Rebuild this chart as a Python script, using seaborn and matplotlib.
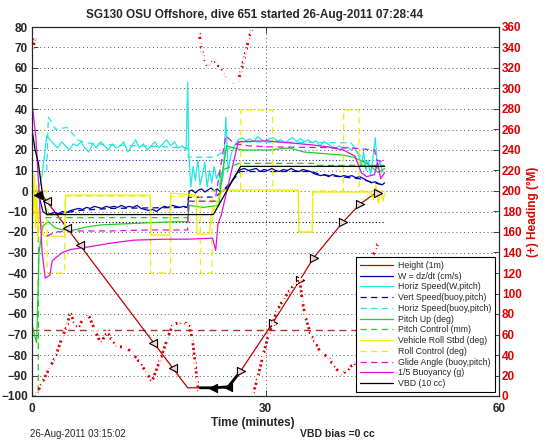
import seaborn as sns
import matplotlib.pyplot as plt
import numpy as np
import pandas as pd

# time in minutes, values in left-axis units unless noted
height_t = [0.0, 0.9, 20.0, 25.3, 26.6, 30.9, 34.4, 36.2, 40.0, 42.1, 44.5]
height_v = [0, 0, -96, -96, -89, -64.5, -43.5, -32.5, -15, -6.5, 0]
desc_mark_t = [1.9, 4.5, 6.2, 15.6, 18.1]
desc_mark_v = [-5, -18, -26.5, -74, -86.5]
asc_mark_t = [26.8, 30.9, 34.4, 36.2, 40.0, 42.1, 44.4]
asc_mark_v = [-88, -64.5, -43.5, -32.5, -15, -6.5, -1]
apogee_t = [21.6, 23.3, 25.2, 26.8]
apogee_v = [-96, -96, -95.5, -88]
start_mark_t = [0.8]
start_mark_v = [-2]

w_t = ([0, 0.6, 1.0, 1.4, 1.9]
       + [2.4, 2.9, 3.4, 3.9, 4.4, 5.0, 5.5, 6.0, 6.5, 7.0, 7.5, 8.0, 8.5, 9.0, 9.5, 10.0, 10.5, 11.0,
          11.5, 12.0, 12.5, 13.0, 13.5, 14.0, 14.5, 15.0, 15.5, 16.0, 16.5, 17.0, 17.5, 18.0, 18.5,
          19.0, 19.5, 20.0]
       + [20.2, 20.6, 21.0, 21.4, 21.8, 22.2, 22.6, 23.0, 23.4, 23.8, 24.2]
       + [24.7, 25.2, 25.7, 26.2, 26.8]
       + [27.3, 27.8, 28.3, 28.8, 29.3, 29.8, 30.3, 30.8, 31.3, 31.8, 32.3, 32.8, 33.3, 33.8, 34.3,
          34.8, 35.3, 35.8]
       + [36.2, 36.6, 37.1, 37.6, 38.1, 38.6, 39.1, 39.6, 40.1, 40.6, 41.1, 41.6, 42.1, 42.6, 43.1,
          43.6, 44.1, 44.6, 45.0, 45.3])
w_v = ([0, 0, -4, -10, -11.5]
       + [-11, -10.5, -11, -10, -10.5, -9.5, -9, -8.5, -9, -8, -8.5, -7.5, -8, -8.5, -7.5, -8, -7.5, -8,
          -7, -8, -7.5, -8, -7, -8.5, -9, -9.5, -9, -10, -8.5, -7.5, -8, -7, -7.5, -8, -7.5, -8]
       + [0, 0.5, -1, 0.5, 1, -0.5, 0.5, 1.5, 0, 1, -0.5]
       + [0.5, 2, 5, 8, 10.5]
       + [11, 10, 10.5, 11, 9.5, 10.5, 10, 11, 10, 9.5, 10.5, 10, 11, 10, 9.5, 10.5, 10, 9.5]
       + [8.5, 8, 7.5, 8, 7, 8, 7.5, 7, 7.5, 7, 7.5, 6.5, 7, 6, 5, 4, 4.5, 3.5, 3, 4])

hsw_t = ([0.8, 1.3, 1.9]
         + [2.3, 2.8, 3.3, 3.8, 4.3, 4.8, 5.3, 5.8, 6.3, 6.8, 7.3, 7.8, 8.3, 8.8, 9.3, 9.8, 10.3, 10.8,
            11.3, 11.8, 12.3, 12.8, 13.3, 13.8, 14.3, 14.8, 15.3, 15.8, 16.3, 16.8, 17.3, 17.8, 18.3,
            18.8, 19.3, 19.8]
         + [20.0, 20.15]
         + [20.4, 20.7, 21.0, 21.3, 21.6, 21.9, 22.2, 22.5, 22.8, 23.1, 23.4, 23.7, 24.0, 24.3, 24.6]
         + [24.9, 25.2, 25.6, 26.0, 26.5]
         + [27.0, 27.5, 28.0, 28.5, 29.0, 29.5, 30.0, 30.5, 31.0, 31.5, 32.0, 32.5, 33.0, 33.5, 34.0,
            34.5, 35.0, 35.5, 36.0, 36.5, 37.0, 37.5, 38.0, 38.5]
         + [39.0, 39.5, 40.0, 40.5, 41.0, 41.5]
         + [42.0, 42.3, 42.6, 42.9, 43.2, 43.5, 43.8, 44.1, 44.4, 44.7, 45.0])
hsw_v = ([0, 8, 27]
         + [25, 23, 21, 24, 22, 20, 23, 22, 24, 21, 19, 23, 21, 24, 22, 20, 23, 21, 22, 24, 19, 22, 25,
            21, 23, 20, 22, 24, 21, 23, 25, 22, 24, 21, 22, 20]
         + [53, 18]
         + [2, 12, 5, 15, 3, 8, 14, 2, 10, 4, 12, 6, 9, 3, 8]
         + [36, 10, 18, 22, 25]
         + [26, 24.5, 25.5, 24, 26.5, 25, 24, 25.5, 26, 24.5, 25, 23.5, 25, 26, 24, 25.5, 24, 25, 23.5,
            24.5, 22, 24, 23, 21.5]
         + [21, 22, 20.5, 21.5, 20, 21]
         + [17, 12, 19, 10, 15, 8, 16, 26, 11, 14, 10])

hsb_t = [1.9, 2.1, 2.6, 3.0, 3.6, 4.5, 5.2, 5.8, 7.0, 10.0, 14.0, 17.0, 20.0, 20.1, 23.5, 24.5,
         26.8, 41.0, 42.0, 43.0, 44.0, 45.0]
hsb_v = [10, 36, 33, 30, 30.5, 31, 28, 25, 23.5, 22.5, 22, 21.5, 21, 16.5, 16.5, 19, 24, 23.5, 18,
         14, 12, 9]

vsb_t = [1.9, 3.0, 4.5, 6.0, 10.0, 20.0, 20.1, 23.5, 24.5, 26.8, 36.0, 37.0, 42.0, 45.0]
vsb_v = [-11.5, -11.5, -10.5, -9.5, -8.5, -8, -3, -3, 0, 9.5, 9.5, 8, 6, 3]

pitch_t = [0, 0.3, 0.6, 0.9, 1.4, 2.1, 3.0, 4.0, 5.5, 7.0, 9.0, 12.0, 15.0, 18.0, 20.0, 20.2, 22.0,
           24.0, 24.5, 25.0, 26.0, 27.0, 30.5, 33.0, 35.0, 40.0, 41.3, 43.0, 44.5, 45.3]
pitch_v = [-65, -70, -74, -30, -17, -15, -18, -19, -19, -17.5, -16.5, -16, -15.5, -15, -15, -7, -8,
           -7, 10, 22, 21, 20, 20, 21, 19, 17.5, 16.5, 13.5, 9, 11]

pitchctl_t = [0, 0.8, 0.85, 20.0, 20.1, 24.0, 24.3, 26.6, 36.2, 36.3, 45.3]
pitchctl_v = [-100, -100, -13, -13, -5, -5, 10, 13.5, 13.5, 12.5, 12.5]

roll_t = [0, 0.15, 0.3, 0.45, 0.6, 0.75, 0.9, 1.1, 1.3, 1.6, 4.2, 4.3, 15.2, 15.3, 17.7, 17.8,
          21.1, 21.2, 22.8, 23.0, 24.2, 24.5, 34.2, 34.3, 36.0, 36.1, 43.5, 43.9, 44.2, 44.5,
          44.8, 45.1, 45.3]
roll_v = [0, -12, 8, -18, 3, -25, -8, -14, -20, -22, -22, -2, -2, -21.5, -21.5, -1, -2, -21, -21,
          -12, -2, 0.5, 0.5, -20, -20, -0.5, -0.5, -4, 3, -6, 0, -5, -1]

rollctl_t = [0, 1.9, 1.95, 4.2, 4.25, 15.2, 15.25, 17.8, 17.85, 21.6, 21.65, 23.1, 23.15, 26.8,
             26.85, 30.9, 30.95, 34.2, 34.25, 36.0, 36.05, 40.0, 40.05, 42.0, 42.05, 45.3]
rollctl_v = [0, 0, -40, -40, -2.5, -2.5, -40, -40, -2.5, -2.5, -40, -40, 0, 0, 39.5, 39.5, 0, 0,
             -20, -20, 0, 0, 39.5, 39.5, 0, 0]

glide_t = [1.9, 3.0, 5.0, 10.0, 15.0, 20.0, 20.1, 23.5, 24.9, 26.0, 28.0, 31.0, 41.0, 44.0, 44.3,
           45.3]
glide_v = [-22, -20, -19.5, -19.5, -19, -19, -5, -5, 27, 23, 22, 21.5, 21, 20, 15, 14]

buoy_t = [0, 0.5, 0.9, 1.3, 1.7, 2.3, 2.6, 3.9, 5.0, 7.7, 10.0, 13.0, 17.0, 20.0, 23.2, 23.6, 23.9,
          24.3, 26.5, 30.0, 36.0, 38.0, 40.0, 41.5, 42.3, 43.0, 44.0, 44.4, 44.8, 45.3]
buoy_v = [43, 26, 0, -30, -42.5, -41, -34, -30, -28.5, -27, -25.5, -24, -23.5, -23.5, -23, -29,
          -16, -12, 24, 24.5, 22.5, 21.5, 20, 17, 9, 7, 8, 14, 6, 9]

vbd_t = [0, 0.4, 0.8, 1.3, 1.9, 23.3, 26.8, 45.3]
vbd_v = [30, 20, 14, 0, -11.5, -11.5, 12, 12]

# reference levels drawn across the dive
ref_t = [0, 45.3]
pitch_lim = [15, -15]
heading_target = -68

# heading in degrees (right axis), split where it wraps through 0/360
head_seg1_t = [0.1, 0.4]
head_seg1_h = [338, 350]
head_seg2_t = [0.6, 1.3, 2.3, 3.0, 3.9, 4.5, 4.9, 5.5, 5.9, 6.6, 7.2, 8.1, 8.8, 9.7, 10.3, 10.9,
               12.0, 12.9, 13.9, 14.8, 15.4, 16.5, 17.4, 18.1, 19.3, 20.1, 20.6, 21.0, 21.2, 21.4]
head_seg2_h = [2, 13, 28, 38, 58, 68, 82, 70, 66, 76, 80, 64, 52, 62, 54, 48, 48, 42, 32, 22, 14,
               36, 56, 70, 72, 70, 56, 30, 16, 4]
head_seg3_t = [21.5, 21.6, 21.8, 22.0, 22.3, 22.6, 22.9, 23.3, 23.7, 24.2, 24.6, 25.1, 25.5, 25.9,
               26.2, 26.5, 26.9, 27.2, 27.5, 27.8, 28.1, 28.3]
head_seg3_h = [355, 345, 338, 331, 326, 321, 325, 328, 324, 320, 315, 310, 307, 306, 306, 308, 318,
               328, 337, 347, 355, 360]
head_seg4_t = [28.4, 29.0, 29.7, 30.4, 30.9, 31.5, 32.3, 33.2, 33.8, 34.4, 34.7, 35.1, 35.8, 36.4,
               37.1, 38.1, 38.7, 39.6, 40.5, 41.3, 42.0, 42.6, 43.0, 43.4, 43.7, 44.1, 44.5]
head_seg4_h = [2, 18, 40, 60, 70, 84, 94, 104, 110, 114, 94, 78, 60, 52, 42, 38, 30, 22, 24, 32, 30,
               40, 64, 100, 135, 142, 150]

RED = '#dd0000'
DASH = (0, (5, 3.5))

sns.set_style('ticks')
plt.rcParams['font.family'] = ['Liberation Sans', 'DejaVu Sans']
plt.rcParams['font.weight'] = 'bold'
plt.rcParams['axes.linewidth'] = 0.8

fig = plt.figure(figsize=(5.46, 4.42), dpi=100)
ax = fig.add_axes([32 / 546, 46 / 442, 467 / 546, 369 / 442])
ax2 = ax.twinx()


def draw(t, v, color, ls='-', label=None, lw=0.9, target=None, **kw):
    df = pd.DataFrame({'t': t, 'v': v})
    sns.lineplot(data=df, x='t', y='v', ax=target or ax, color=color, linestyle=ls, lw=lw,
                 estimator=None, sort=False, label=label, legend=False, **kw)


# reference lines
draw(ref_t, [pitch_lim[0]] * 2, '#2222aa', ls=(0, (1, 2)), lw=0.8)
draw(ref_t, [pitch_lim[1]] * 2, 'black', ls=(0, (1, 2)), lw=0.8)
draw(ref_t, [heading_target] * 2, '#b03030', ls=DASH, lw=1.0)

# the data series, in legend order
draw(height_t, height_v, '#bb0000', label='Height (1m)')
draw(w_t, w_v, '#0000aa', label='W = dz/dt (cm/s)')
draw(hsw_t, hsw_v, '#22e5e5', label='Horiz Speed(W,pitch)')
draw(vsb_t, vsb_v, '#0000aa', ls=DASH, label='Vert Speed(buoy,pitch)')
draw(hsb_t, hsb_v, '#22e5e5', ls=DASH, label='Horiz Speed(buoy,pitch)')
draw(pitch_t, pitch_v, '#22cc22', label='Pitch Up (deg)')
draw(pitchctl_t, pitchctl_v, '#22cc22', ls=DASH, label='Pitch Control (mm)')
draw(roll_t, roll_v, '#eeee00', label='Vehicle Roll Stbd (deg)')
draw(rollctl_t, rollctl_v, '#eeee00', ls=DASH, label='Roll Control (deg)')
draw(glide_t, glide_v, '#e010e0', ls=DASH, label='Glide Angle (buoy,pitch)')
draw(buoy_t, buoy_v, '#e010e0', label='1/5 Buoyancy (g)')
draw(vbd_t, vbd_v, 'black', label='VBD (10 cc)')

# height markers
draw(apogee_t, apogee_v, 'black', lw=2.0)
sns.scatterplot(x=desc_mark_t, y=desc_mark_v, ax=ax, marker='<', s=34, color='#f4d0d0',
                edgecolor='black', linewidth=0.8, zorder=5)
sns.scatterplot(x=asc_mark_t, y=asc_mark_v, ax=ax, marker='>', s=34, color='#f4d0d0',
                edgecolor='black', linewidth=0.8, zorder=5)
sns.scatterplot(x=apogee_t[1:3] + start_mark_t, y=apogee_v[1:3] + start_mark_v, ax=ax,
                marker='<', s=34, color='black', edgecolor='black', linewidth=0.8, zorder=5)

# heading on right axis
head = pd.concat([
    pd.DataFrame({'t': head_seg1_t, 'h': head_seg1_h, 'seg': 1}),
    pd.DataFrame({'t': head_seg2_t, 'h': head_seg2_h, 'seg': 2}),
    pd.DataFrame({'t': head_seg3_t, 'h': head_seg3_h, 'seg': 3}),
    pd.DataFrame({'t': head_seg4_t, 'h': head_seg4_h, 'seg': 4}),
])
sns.lineplot(data=head, x='t', y='h', units='seg', estimator=None, sort=False, ax=ax2, color=RED,
             linestyle=(0, (0.8, 0.9)), lw=2.0, marker='+', markersize=4.5, markeredgewidth=1.2,
             legend=False)

# axes
ax.set_xlim(0, 60)
ax.set_ylim(-100, 80)
ax2.set_ylim(0, 360)
ax.set_xticks([0, 30, 60])
ax.set_yticks(np.arange(-100, 81, 10))
ax2.set_yticks(np.arange(0, 361, 20))
ax.set_axisbelow(True)
ax.grid(True, linestyle=(0, (1, 3)), color='#555555', lw=0.7)
ax.tick_params(direction='in', length=4, width=0.6, labelsize=8.5, top=True, pad=3)
ax.tick_params(axis='x', pad=5)
ax2.tick_params(axis='y', direction='in', length=4, width=0.6, labelsize=8.5, pad=2,
                labelcolor=RED)
for s in ax.spines.values():
    s.set_color('black')

ax.set_ylabel('')
ax.set_xlabel('Time (minutes)', fontsize=8.5, fontweight='bold')
ax.xaxis.set_label_coords((253 - 32) / 467, -0.058)
ax2.set_ylabel('(+) Heading (°M)', fontsize=8.5, fontweight='bold', color=RED)
ax2.yaxis.set_label_coords(1.06, 0.5)

if ax.get_legend() is not None:
    ax.get_legend().remove()
handles, labels = ax.get_legend_handles_labels()
leg = ax2.legend(handles, labels, loc='lower right', bbox_to_anchor=(0.9914, 0.0108),
                 borderaxespad=0, prop={'size': 6.3, 'weight': 'normal'}, frameon=True,
                 fancybox=False, edgecolor='black', framealpha=1, handlelength=3.8,
                 handletextpad=0.5, labelspacing=0.2, borderpad=0.45)
leg.get_frame().set_linewidth(0.8)

fig.text(254 / 546, 1 - 18 / 442, 'SG130 OSU Offshore, dive 651 started 26-Aug-2011 07:28:44',
         ha='center', va='baseline', fontsize=8.5, fontweight='bold')
fig.text(30 / 546, 1 - 437 / 442, '26-Aug-2011 03:15:02', ha='left', va='baseline',
         fontsize=7, fontweight='normal')
fig.text(300 / 546, 1 - 437 / 442, 'VBD bias =0 cc', ha='left', va='baseline',
         fontsize=7.5, fontweight='bold')

plt.savefig('out.png', dpi=100)
